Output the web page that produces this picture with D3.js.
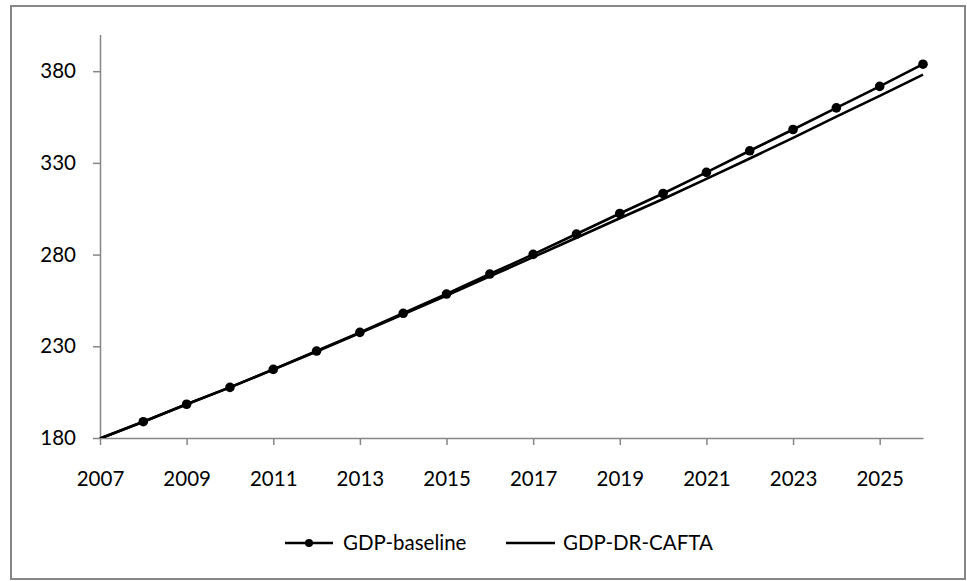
<!DOCTYPE html>
<html>
<head>
<meta charset="utf-8">
<script src="https://cdn.jsdelivr.net/npm/d3@7"></script>
<style>
  html, body { margin: 0; padding: 0; background: #fff; }
  svg { display: block; font-family: Lato, "Open Sans", sans-serif; }
</style>
</head>
<body>
<svg id="chart" width="967" height="581"></svg>
<script>
// GDP projections, 2007-2026
const years = [2007, 2008, 2009, 2010, 2011, 2012, 2013, 2014, 2015, 2016,
               2017, 2018, 2019, 2020, 2021, 2022, 2023, 2024, 2025, 2026];
const gdpBaseline = [179.7, 188.9, 198.4, 207.6, 217.4, 227.4, 237.6, 248.0, 258.5, 269.4,
                     280.1, 291.2, 302.4, 313.3, 324.8, 336.6, 348.2, 360.0, 371.7, 383.8];
const gdpCafta = [179.7, 188.9, 198.4, 207.6, 217.3, 227.2, 237.2, 247.4, 257.6, 268.1,
                  278.6, 289.2, 299.8, 310.3, 321.3, 332.4, 343.6, 355.2, 366.5, 378.1];
const yTicks = [180, 230, 280, 330, 380];
const xTicks = [2007, 2009, 2011, 2013, 2015, 2017, 2019, 2021, 2023, 2025];
const seriesNames = ["GDP-baseline", "GDP-DR-CAFTA"];

const svg = d3.select("#chart");
const axisColor = "#868686";

// outer frame
svg.append("rect")
  .attr("x", 11).attr("y", 6)
  .attr("width", 954).attr("height", 573)
  .attr("fill", "none").attr("stroke", axisColor).attr("stroke-width", 2);

const x = d3.scaleLinear().domain([2007, 2026]).range([100, 923]);
const y = d3.scaleLinear().domain([180, 400]).range([438, 34.5]);
const [yMin, yMax] = y.domain();

// plot-area clip so values below the axis minimum are cut off
svg.append("defs").append("clipPath").attr("id", "plot-clip")
  .append("rect")
  .attr("x", x.range()[0] - 10).attr("y", y.range()[1])
  .attr("width", x.range()[1] - x.range()[0] + 20)
  .attr("height", y.range()[0] - y.range()[1]);

// y axis
const yAxis = svg.append("g")
  .attr("transform", "translate(100,0)")
  .call(d3.axisLeft(y).tickValues(yTicks).tickSizeInner(7).tickSizeOuter(0).tickPadding(17));

// x axis
const xAxis = svg.append("g")
  .attr("transform", "translate(0,438)")
  .call(d3.axisBottom(x).tickValues(xTicks).tickFormat(d3.format("d"))
        .tickSizeInner(7).tickSizeOuter(0).tickPadding(26));

[yAxis, xAxis].forEach(g => {
  g.select(".domain").attr("stroke", axisColor).attr("stroke-width", 1.5);
  g.selectAll(".tick line").attr("stroke", axisColor).attr("stroke-width", 1.5);
  g.selectAll(".tick text").attr("fill", "#000").style("font-size", "20.5px")
    .style("font-family", "Lato, 'Open Sans', sans-serif");
});

const line = d3.line().x((d, i) => x(years[i])).y(d => y(d));
const plot = svg.append("g").attr("clip-path", "url(#plot-clip)");

// DR-CAFTA scenario (no markers)
plot.append("path").datum(gdpCafta)
  .attr("d", line).attr("fill", "none")
  .attr("stroke", "#000").attr("stroke-width", 2.6);

// baseline with markers
plot.append("path").datum(gdpBaseline)
  .attr("d", line).attr("fill", "none")
  .attr("stroke", "#000").attr("stroke-width", 2.6);

// markers only for points inside the value range
const markerData = gdpBaseline
  .map((v, i) => ({ year: years[i], value: v }))
  .filter(d => d.value >= yMin && d.value <= yMax);

svg.append("g").selectAll("circle")
  .data(markerData).join("circle")
  .attr("cx", d => x(d.year))
  .attr("cy", d => y(d.value))
  .attr("r", 4.8)
  .attr("fill", "#000");

// legend
const legendY = 543;
const legendItems = [
  { name: seriesNames[0], x0: 285, x1: 333, text: 343, marker: true },
  { name: seriesNames[1], x0: 506, x1: 555, text: 563, marker: false }
];
const lg = svg.append("g");
legendItems.forEach(it => {
  lg.append("line")
    .attr("x1", it.x0).attr("x2", it.x1)
    .attr("y1", legendY).attr("y2", legendY)
    .attr("stroke", "#000").attr("stroke-width", 2.4);
  if (it.marker) {
    lg.append("circle")
      .attr("cx", (it.x0 + it.x1) / 2).attr("cy", legendY)
      .attr("r", 4).attr("fill", "#000");
  }
  lg.append("text")
    .attr("x", it.text).attr("y", legendY)
    .attr("dy", "0.35em")
    .style("font-size", "20.5px")
    .attr("fill", "#000")
    .text(it.name);
});
</script>
</body>
</html>
